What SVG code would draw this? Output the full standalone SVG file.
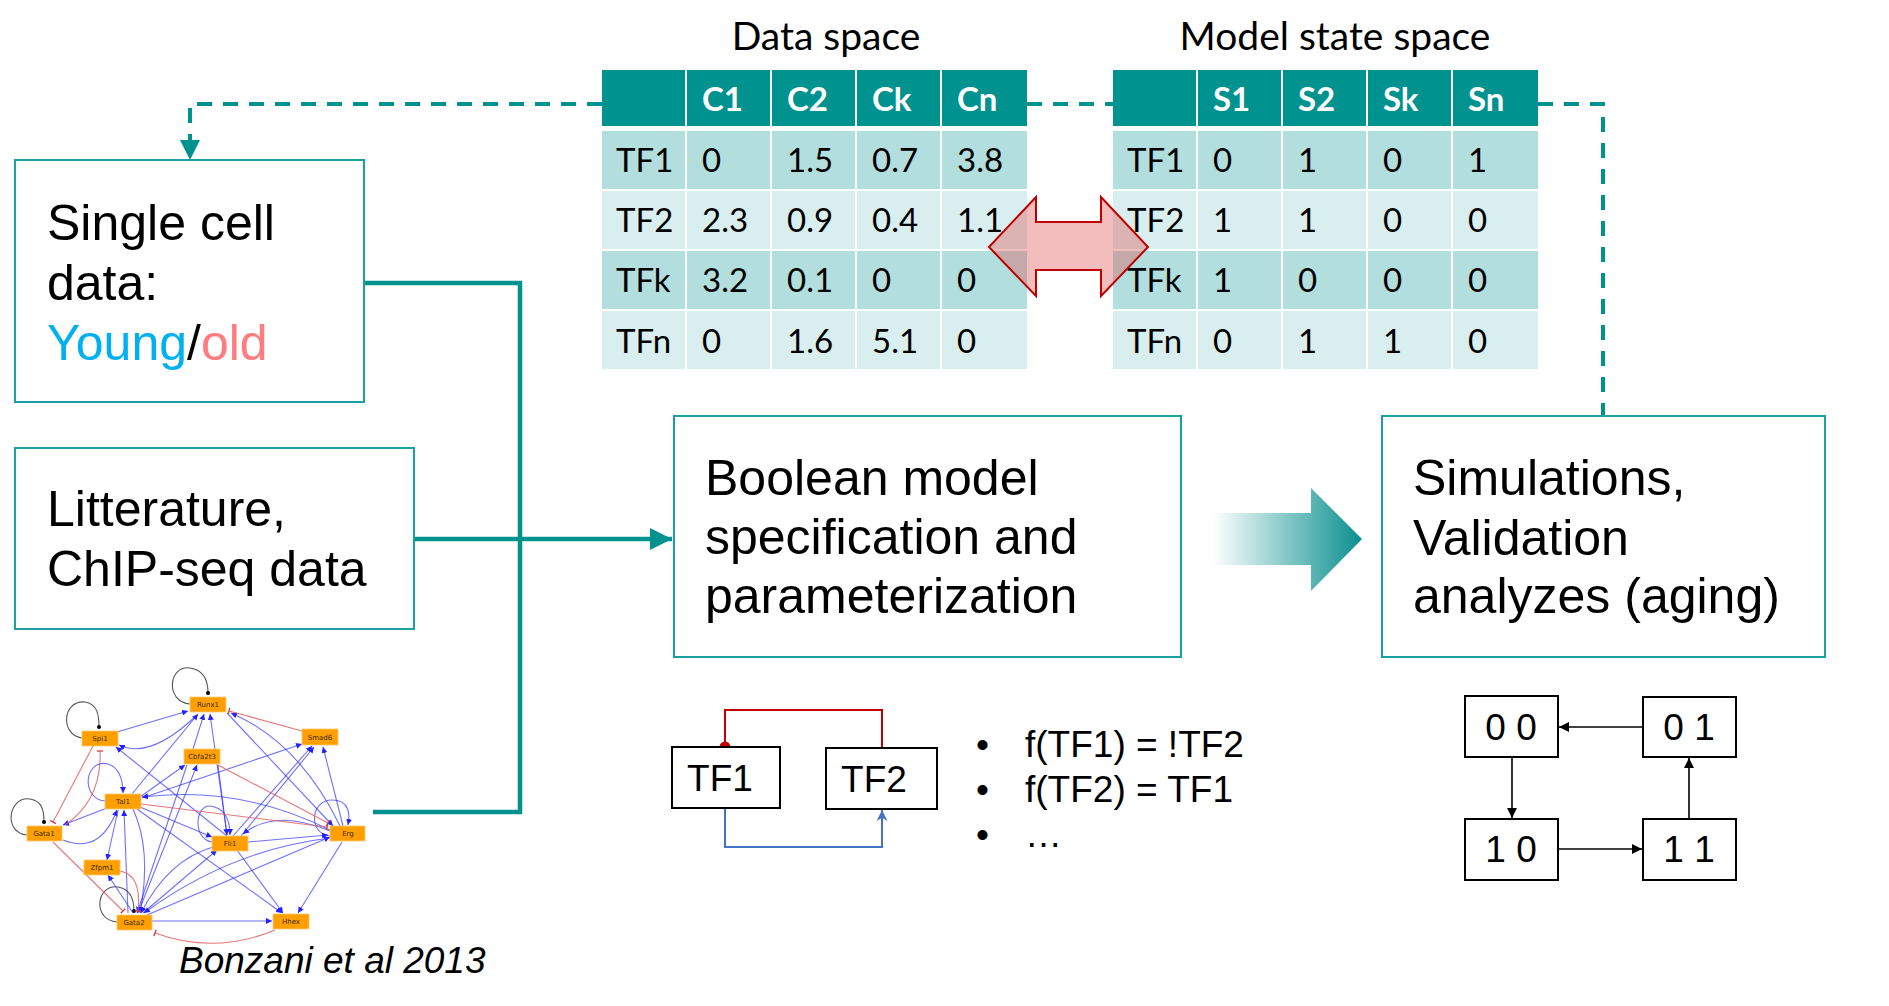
<svg xmlns="http://www.w3.org/2000/svg" width="1889" height="1006" viewBox="0 0 1889 1006">
<defs>
<style>
.box{fill:#fff;stroke:#1AA0A0;stroke-width:2}
.bt{font-family:"Liberation Sans",Arial,sans-serif;font-size:50px;fill:#000}
.hd{fill:#00928F}
.r1{fill:#B2DEDE}
.r2{fill:#D9EFEF}
.th{font-family:Lato,"Open Sans",sans-serif;font-size:33px;font-weight:bold;fill:#fff}
.td{font-family:Lato,"Open Sans",sans-serif;font-size:33px;fill:#000}
.ttl{font-family:Lato,"Open Sans",sans-serif;font-size:39px;fill:#000;text-anchor:middle}
.dash{fill:none;stroke:#00928F;stroke-width:4;stroke-dasharray:15 11}
.conn{fill:none;stroke:#00928F;stroke-width:4.5}
.sb{fill:#fff;stroke:#000;stroke-width:2}
.st{font-family:"Liberation Sans",Arial,sans-serif;font-size:37px;fill:#000;text-anchor:middle}
.sa{fill:none;stroke:#000;stroke-width:1.6;marker-end:url(#ka)}
.nb{fill:#FFA000;stroke:#FFC870;stroke-width:0.8}
.nl{font-family:"DejaVu Sans",sans-serif;font-size:7px;fill:#3a2a00;text-anchor:middle}
.be{fill:none;stroke:#3333FF;stroke-opacity:0.7;stroke-width:1.1;marker-end:url(#ba)}
.re{fill:none;stroke:#E06060;stroke-opacity:0.85;stroke-width:1.1;marker-end:url(#rb)}
.ge{fill:none;stroke:#555;stroke-width:1.1;marker-end:url(#gd)}
</style>
<marker id="ka" viewBox="0 0 10 10" refX="10" refY="5" markerWidth="10" markerHeight="10" markerUnits="userSpaceOnUse" orient="auto"><path d="M0,0 L10,5 L0,10 z" fill="#000"/></marker>
<marker id="ta" viewBox="0 0 10 10" refX="10" refY="5" markerWidth="22" markerHeight="22" markerUnits="userSpaceOnUse" orient="auto"><path d="M0,0 L10,5 L0,10 z" fill="#00928F"/></marker>
<marker id="ba" viewBox="0 0 10 10" refX="10" refY="5" markerWidth="6" markerHeight="6" markerUnits="userSpaceOnUse" orient="auto"><path d="M0,0 L10,5 L0,10 z" fill="#2222FF"/></marker>
<marker id="rb" viewBox="0 0 10 10" refX="5" refY="5" markerWidth="7" markerHeight="7" markerUnits="userSpaceOnUse" orient="auto"><path d="M5,0 L5,10" stroke="#D04040" stroke-width="2"/></marker>
<marker id="gd" viewBox="0 0 10 10" refX="5" refY="5" markerWidth="4" markerHeight="4" markerUnits="userSpaceOnUse" orient="auto"><circle cx="5" cy="5" r="5" fill="#000"/></marker>
<marker id="bla" viewBox="0 0 10 10" refX="10" refY="5" markerWidth="11" markerHeight="11" markerUnits="userSpaceOnUse" orient="auto"><path d="M0,0 L10,5 L0,10 L3,5 z" fill="#4472C4"/></marker>
<linearGradient id="gr" gradientUnits="userSpaceOnUse" x1="1213" y1="0" x2="1362" y2="0">
<stop offset="0" stop-color="#FFFFFF"/>
<stop offset="1" stop-color="#0A8F8F"/>
</linearGradient>
</defs>
<rect width="1889" height="1006" fill="#fff"/>

<g id="connectors">
<path class="dash" d="M602,104 H190 V141"/>
<path d="M180,140 L200,140 L190,160 z" fill="#00928F"/>
<path class="dash" d="M1027,104 H1113"/>
<path class="dash" d="M1538,104 H1603 V416"/>
<path class="conn" d="M364,283 H520 V812 H373"/>
<path class="conn" d="M414,539 H672" marker-end="url(#ta)"/>
<path d="M1213,513 H1311 V488 L1362,539 L1311,591 V565 H1213 z" fill="url(#gr)"/>
</g>

<g id="data-table">
<text class="ttl" x="826" y="50">Data space</text>
<rect class="hd" x="602" y="70" width="83" height="56"/>
<rect class="hd" x="687" y="70" width="83" height="56"/>
<rect class="hd" x="772" y="70" width="83" height="56"/>
<rect class="hd" x="857" y="70" width="83" height="56"/>
<rect class="hd" x="942" y="70" width="85" height="56"/>
<text class="th" x="702" y="111">C1</text><text class="th" x="787" y="111">C2</text><text class="th" x="872" y="111">Ck</text><text class="th" x="957" y="111">Cn</text>
<g class="r1"><rect x="602" y="131" width="83" height="58"/><rect x="687" y="131" width="83" height="58"/><rect x="772" y="131" width="83" height="58"/><rect x="857" y="131" width="83" height="58"/><rect x="942" y="131" width="85" height="58"/></g>
<g class="r2"><rect x="602" y="191" width="83" height="58"/><rect x="687" y="191" width="83" height="58"/><rect x="772" y="191" width="83" height="58"/><rect x="857" y="191" width="83" height="58"/><rect x="942" y="191" width="85" height="58"/></g>
<g class="r1"><rect x="602" y="251" width="83" height="58"/><rect x="687" y="251" width="83" height="58"/><rect x="772" y="251" width="83" height="58"/><rect x="857" y="251" width="83" height="58"/><rect x="942" y="251" width="85" height="58"/></g>
<g class="r2"><rect x="602" y="311" width="83" height="58"/><rect x="687" y="311" width="83" height="58"/><rect x="772" y="311" width="83" height="58"/><rect x="857" y="311" width="83" height="58"/><rect x="942" y="311" width="85" height="58"/></g>
<g class="td">
<text x="616" y="172">TF1</text><text x="702" y="172">0</text><text x="787" y="172">1.5</text><text x="872" y="172">0.7</text><text x="957" y="172">3.8</text>
<text x="616" y="232">TF2</text><text x="702" y="232">2.3</text><text x="787" y="232">0.9</text><text x="872" y="232">0.4</text><text x="957" y="232">1.1</text>
<text x="616" y="292">TFk</text><text x="702" y="292">3.2</text><text x="787" y="292">0.1</text><text x="872" y="292">0</text><text x="957" y="292">0</text>
<text x="616" y="353">TFn</text><text x="702" y="353">0</text><text x="787" y="353">1.6</text><text x="872" y="353">5.1</text><text x="957" y="353">0</text>
</g>
</g>

<g id="model-table">
<text class="ttl" x="1335" y="50">Model state space</text>
<rect class="hd" x="1113" y="70" width="83" height="56"/>
<rect class="hd" x="1198" y="70" width="83" height="56"/>
<rect class="hd" x="1283" y="70" width="83" height="56"/>
<rect class="hd" x="1368" y="70" width="83" height="56"/>
<rect class="hd" x="1453" y="70" width="85" height="56"/>
<text class="th" x="1213" y="111">S1</text><text class="th" x="1298" y="111">S2</text><text class="th" x="1383" y="111">Sk</text><text class="th" x="1468" y="111">Sn</text>
<g class="r1"><rect x="1113" y="131" width="83" height="58"/><rect x="1198" y="131" width="83" height="58"/><rect x="1283" y="131" width="83" height="58"/><rect x="1368" y="131" width="83" height="58"/><rect x="1453" y="131" width="85" height="58"/></g>
<g class="r2"><rect x="1113" y="191" width="83" height="58"/><rect x="1198" y="191" width="83" height="58"/><rect x="1283" y="191" width="83" height="58"/><rect x="1368" y="191" width="83" height="58"/><rect x="1453" y="191" width="85" height="58"/></g>
<g class="r1"><rect x="1113" y="251" width="83" height="58"/><rect x="1198" y="251" width="83" height="58"/><rect x="1283" y="251" width="83" height="58"/><rect x="1368" y="251" width="83" height="58"/><rect x="1453" y="251" width="85" height="58"/></g>
<g class="r2"><rect x="1113" y="311" width="83" height="58"/><rect x="1198" y="311" width="83" height="58"/><rect x="1283" y="311" width="83" height="58"/><rect x="1368" y="311" width="83" height="58"/><rect x="1453" y="311" width="85" height="58"/></g>
<g class="td">
<text x="1127" y="172">TF1</text><text x="1213" y="172">0</text><text x="1298" y="172">1</text><text x="1383" y="172">0</text><text x="1468" y="172">1</text>
<text x="1127" y="232">TF2</text><text x="1213" y="232">1</text><text x="1298" y="232">1</text><text x="1383" y="232">0</text><text x="1468" y="232">0</text>
<text x="1127" y="292">TFk</text><text x="1213" y="292">1</text><text x="1298" y="292">0</text><text x="1383" y="292">0</text><text x="1468" y="292">0</text>
<text x="1127" y="353">TFn</text><text x="1213" y="353">0</text><text x="1298" y="353">1</text><text x="1383" y="353">1</text><text x="1468" y="353">0</text>
</g>
</g>

<g id="double-arrow">
<path d="M989,247 L1036,197 L1036,222 L1101,222 L1101,197 L1148,247 L1101,296 L1101,270 L1036,270 L1036,296 z" fill="#E05A5A" fill-opacity="0.4" stroke="#C00000" stroke-width="2"/>
</g>

<g id="single-cell">
<rect class="box" x="15" y="160" width="349" height="242"/>
<text class="bt" x="47" y="240">Single cell</text>
<text class="bt" x="47" y="300">data:</text>
<text class="bt" x="47" y="360"><tspan fill="#00B0F0">Young</tspan>/<tspan fill="#FF7C80">old</tspan></text>
</g>

<g id="litterature">
<rect class="box" x="15" y="448" width="399" height="181"/>
<text class="bt" x="47" y="526">Litterature,</text>
<text class="bt" x="47" y="586">ChIP-seq data</text>
</g>

<g id="boolean-model">
<rect class="box" x="674" y="416" width="507" height="241"/>
<text class="bt" x="705" y="495">Boolean model</text>
<text class="bt" x="705" y="554">specification and</text>
<text class="bt" x="705" y="613">parameterization</text>
</g>

<g id="simulations">
<rect class="box" x="1382" y="416" width="443" height="241"/>
<text class="bt" x="1413" y="495">Simulations,</text>
<text class="bt" x="1413" y="555">Validation</text>
<text class="bt" x="1413" y="613">analyzes (aging)</text>
</g>

<g id="network">
<g>
<path class="ge" d="M190,704 C165,702 168,665 190,668 C204,670 208,680 208,693"/>
<path class="ge" d="M82,738 C60,735 62,700 85,702 C97,704 99,714 99,727"/>
<path class="ge" d="M27,835 C3,833 8,796 30,799 C42,801 44,810 44,822"/>
<path class="ge" d="M117,922 C92,920 96,884 118,887 C130,889 134,898 134,911"/>
</g>
<g>
<path class="be" d="M117,732 L188,711"/>
<path class="be" d="M197,715 Q150,760 119,745"/>
<path class="be" d="M132,794 L198,714"/>
<path class="be" d="M193,749 L204,714"/>
<path class="be" d="M227,835 L210,714"/>
<path class="be" d="M227,713 L333,826"/>
<path class="be" d="M340,826 Q300,743 231,713"/>
<path class="be" d="M227,836 L116,747"/>
<path class="be" d="M140,797 L185,765"/>
<path class="be" d="M142,798 L302,744"/>
<path class="be" d="M233,836 L312,746"/>
<path class="be" d="M241,836 L314,747"/>
<path class="be" d="M343,826 L323,747"/>
<path class="be" d="M106,801 C80,800 84,758 108,764 C119,767 123,780 123,793"/>
<path class="be" d="M107,808 L63,825"/>
<path class="be" d="M63,840 Q100,855 117,810"/>
<path class="be" d="M118,810 L107,860"/>
<path class="be" d="M133,913 L108,875"/>
<path class="be" d="M128,913 L124,810"/>
<path class="be" d="M133,809 Q152,850 140,913"/>
<path class="be" d="M140,807 L212,837"/>
<path class="be" d="M137,809 L282,913"/>
<path class="be" d="M330,830 Q240,785 142,797"/>
<path class="be" d="M213,842 C192,840 195,805 210,806 C225,808 230,820 230,835"/>
<path class="be" d="M330,836 C308,834 310,800 332,800 C350,800 350,815 348,825"/>
<path class="be" d="M248,842 L328,835"/>
<path class="be" d="M330,831 Q275,808 243,834"/>
<path class="be" d="M143,913 L217,850"/>
<path class="be" d="M213,847 Q168,860 141,913"/>
<path class="be" d="M147,915 L330,837"/>
<path class="be" d="M330,838 Q230,850 144,913"/>
<path class="be" d="M237,850 L283,913"/>
<path class="be" d="M342,842 L298,913"/>
<path class="be" d="M152,921 L272,921"/>
<path class="be" d="M138,913 L197,765"/>
<path class="be" d="M187,765 L137,913"/>
<path class="be" d="M218,765 L227,835"/>
</g>
<g>
<path class="re" d="M302,731 L229,711"/>
<path class="re" d="M93,746 L53,822"/>
<path class="re" d="M65,825 Q102,800 100,751"/>
<path class="re" d="M53,842 L123,911"/>
<path class="re" d="M120,871 Q142,875 138,911"/>
<path class="re" d="M218,765 L328,823"/>
<path class="re" d="M141,804 L327,827"/>
<path class="re" d="M275,930 Q215,955 155,933"/>
</g>
<g>
<rect class="nb" x="190" y="697" width="36" height="15"/><text class="nl" x="208" y="707">Runx1</text>
<rect class="nb" x="82" y="731" width="36" height="15"/><text class="nl" x="100" y="741">Spi1</text>
<rect class="nb" x="302" y="729" width="36" height="16"/><text class="nl" x="320" y="740">Smad6</text>
<rect class="nb" x="184" y="749" width="36" height="15"/><text class="nl" x="202" y="759">Cbfa2t3</text>
<rect class="nb" x="105" y="794" width="36" height="15"/><text class="nl" x="123" y="804">Tal1</text>
<rect class="nb" x="27" y="826" width="35" height="15"/><text class="nl" x="44" y="836">Gata1</text>
<rect class="nb" x="212" y="836" width="36" height="15"/><text class="nl" x="230" y="846">Fli1</text>
<rect class="nb" x="330" y="826" width="35" height="15"/><text class="nl" x="348" y="836">Erg</text>
<rect class="nb" x="84" y="860" width="36" height="15"/><text class="nl" x="102" y="870">Zfpm1</text>
<rect class="nb" x="117" y="915" width="35" height="15"/><text class="nl" x="134" y="925">Gata2</text>
<rect class="nb" x="273" y="914" width="36" height="15"/><text class="nl" x="291" y="924">Hhex</text>
</g>
<text x="179" y="973" font-family="'Liberation Sans',Arial,sans-serif" font-size="37" font-style="italic" fill="#000">Bonzani et al 2013</text>
</g>

<g id="tf-loop">
<path d="M725,747 V710 H882 V748" fill="none" stroke="#C00000" stroke-width="2"/>
<circle cx="725" cy="747" r="5.5" fill="#C00000"/>
<path d="M725,808 V847 H882 V810" fill="none" stroke="#4472C4" stroke-width="2" marker-end="url(#bla)"/>
<g id="tf1"><rect class="sb" x="672" y="747" width="108" height="61"/><text class="st" x="720" y="791">TF1</text></g>
<g id="tf2"><rect class="sb" x="826" y="748" width="111" height="61"/><text class="st" x="874" y="792">TF2</text></g>
</g>

<g id="rules" font-family="'Liberation Sans',Arial,sans-serif" font-size="37" fill="#000">
<text x="976" y="757">•</text><text x="1025" y="757">f(TF1) = !TF2</text>
<text x="976" y="802">•</text><text x="1025" y="802">f(TF2) = TF1</text>
<text x="976" y="847">•</text><text x="1025" y="847">…</text>
</g>

<g id="state-graph">
<g id="s00"><rect class="sb" x="1465" y="696" width="93" height="61"/><text class="st" x="1511" y="740">0 0</text></g>
<g id="s01"><rect class="sb" x="1643" y="697" width="93" height="60"/><text class="st" x="1689" y="740">0 1</text></g>
<g id="s10"><rect class="sb" x="1465" y="819" width="93" height="61"/><text class="st" x="1511" y="862">1 0</text></g>
<g id="s11"><rect class="sb" x="1643" y="819" width="93" height="61"/><text class="st" x="1689" y="862">1 1</text></g>
<path class="sa" d="M1643,727 H1559"/>
<path class="sa" d="M1512,757 V818"/>
<path class="sa" d="M1558,849 H1642"/>
<path class="sa" d="M1689,819 V758"/>
</g>
</svg>
